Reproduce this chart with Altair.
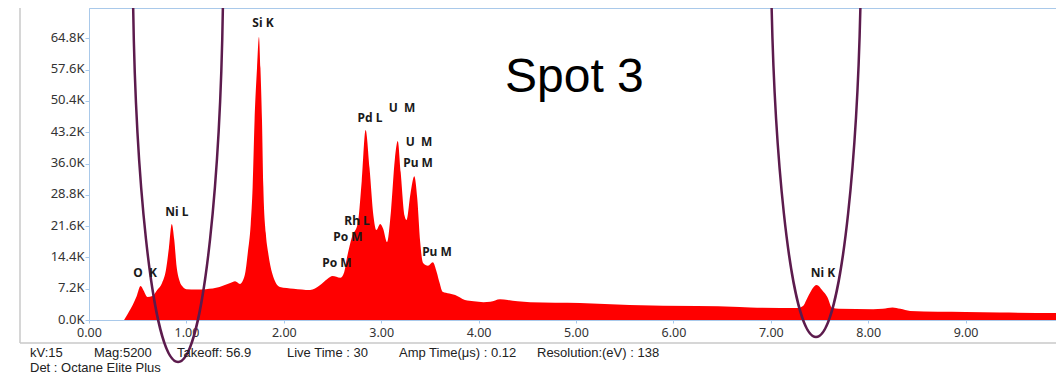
import altair as alt
import pandas as pd

# ---- spectrum (keV, counts in K) ----
energy = [0.36, 0.40, 0.45, 0.49, 0.53, 0.56, 0.60, 0.65, 0.70, 0.75, 0.79, 0.82, 0.85,
          0.875, 0.90, 0.93, 0.965, 1.00, 1.10, 1.20, 1.34, 1.45, 1.50, 1.55, 1.60, 1.63,
          1.66, 1.68, 1.70, 1.725, 1.745, 1.76, 1.776, 1.79, 1.815, 1.84, 1.88, 1.96, 2.10,
          2.27, 2.37, 2.45, 2.50, 2.58, 2.62, 2.65, 2.70, 2.76, 2.80, 2.84, 2.88, 2.92, 2.95,
          2.99, 3.02, 3.06, 3.10, 3.14, 3.17, 3.20, 3.24, 3.26, 3.30, 3.34, 3.37, 3.40, 3.43,
          3.48, 3.53, 3.57, 3.60, 3.63, 3.70, 3.76, 3.86, 3.95, 4.05, 4.12, 4.22, 4.30, 4.40,
          4.53, 5.04, 5.55, 6.24, 6.68, 6.79, 7.28, 7.33, 7.38, 7.47, 7.53, 7.58, 7.63, 7.70,
          8.05, 8.15, 8.25, 8.33, 8.43, 9.00, 9.35, 10.00]
counts_k = [0.0, 1.5, 3.5, 5.5, 7.8, 6.8, 5.3, 5.5, 6.9, 8.5, 11.5, 16.5, 22.1,
            18.5, 12.2, 9.0, 7.6, 7.1, 7.0, 7.1, 7.6, 8.5, 8.9, 8.3, 10.4, 15.4,
            22.0, 30.6, 46.0, 58.0, 65.1, 58.0, 46.0, 30.6, 20.0, 15.4, 10.8, 7.6, 7.2,
            6.9, 8.0, 9.5, 10.1, 9.7, 11.0, 14.5, 19.1, 22.3, 32.0, 43.7, 35.0, 24.0, 20.7,
            22.1, 21.0, 17.9, 25.0, 37.0, 41.2, 34.0, 24.0, 23.0, 29.0, 33.1, 28.0, 18.0, 13.1,
            12.5, 13.3, 11.0, 8.5, 6.5, 6.1, 5.75, 4.6, 4.3, 4.1, 4.2, 4.8, 4.6, 4.3,
            4.1, 3.9, 3.45, 3.2, 3.0, 2.9, 2.76, 3.2, 5.3, 8.05, 6.8, 5.3, 2.8, 2.6,
            2.5, 2.6, 2.9, 2.6, 2.1, 1.85, 1.7, 1.6]

# ---- peak labels ----
NB = "\u00a0"
peak_text = ["O" + NB + NB + "K", "Ni L", "Si K", "Pd L", "U" + NB + NB + "M", "U" + NB + NB + "M",
             "Pu M", "Rh L", "Po M", "Po M", "Pu M", "Ni K"]
peak_x = [0.575, 0.903, 1.786, 2.885, 3.214, 3.388, 3.378, 2.752, 2.659, 2.546, 3.573, 7.536]
peak_y_k = [10.8, 24.8, 68.3, 46.5, 48.8, 40.9, 36.1, 22.8, 19.1, 13.1, 15.6, 10.8]

# ---- highlighted peaks (ellipse bottoms) ----
ring_x = [0.914, 7.464]
ring_y_k = [-9.66, -3.91]

y_ticks = [0, 7200, 14400, 21600, 28800, 36000, 43200, 50400, 57600, 64800]
x_ticks = [0, 1, 2, 3, 4, 5, 6, 7, 8, 9]

footer_row1 = ["kV:15", "Mag:5200", "Takeoff: 56.9", "Live Time : 30", "Amp Time(\u03bcs) : 0.12",
               "Resolution:(eV) : 138"]
footer_row2 = "Det : Octane Elite Plus"

BLUE = "#a9c9ea"
spec = pd.DataFrame({"energy": energy, "counts": [c * 1000 for c in counts_k]})
labels = pd.DataFrame({"energy": peak_x, "counts": [c * 1000 for c in peak_y_k], "t": peak_text})
rings = pd.DataFrame({"energy": ring_x, "counts": [c * 1000 for c in ring_y_k]})

X = alt.X("energy:Q", scale=alt.Scale(domain=[0, 9.928], nice=False, zero=False),
          axis=alt.Axis(values=x_ticks, format=".2f", title=None, grid=False, tickSize=3,
                        labelPadding=3, labelFlush=False, labelOverlap=False, labelFontSize=12.5))
Y = alt.Y("counts:Q", scale=alt.Scale(domain=[0, 71800], nice=False),
          axis=alt.Axis(values=y_ticks, labelExpr="format(datum.value/1000, '.1f') + 'K'",
                        title=None, grid=False, tickSize=4, labelPadding=1, labelFlush=False,
                        labelOffset=-1))

area = alt.Chart(spec).mark_area(color="#ff0000", interpolate="monotone", clip=True).encode(x=X, y=Y)

peak_lbl = alt.Chart(labels).mark_text(font="Noto Sans", fontSize=12, fontWeight="bold",
                                       color="#1a1a1a", baseline="middle", align="center").encode(
    x=X, y=Y, text="t:N")

ELLIPSE = "M0,0 A0.108,1 0 1,1 0,-2 A0.108,1 0 1,1 0,0 Z"
ring = alt.Chart(rings).mark_point(shape=ELLIPSE, size=705600, filled=False, color="#5c1b4d",
                                   strokeWidth=2.5, opacity=1).encode(x=X, y=Y)

spot = alt.Chart(pd.DataFrame({"t": ["Spot 3"]})).mark_text(
    font="Liberation Sans", fontSize=48, color="#000000", align="left", baseline="alphabetic").encode(
    text="t:N", x=alt.value(416), y=alt.value(84))

# outer gray frame (left and bottom edges)
frame = alt.Chart(pd.DataFrame({"a": [0]})).mark_rule(color="#c9c9c9", strokeWidth=1.5).encode(
    x=alt.value(-69), x2=alt.value(-69), y=alt.value(-8), y2=alt.value(335))
frame2 = alt.Chart(pd.DataFrame({"a": [0]})).mark_rule(color="#c9c9c9", strokeWidth=1.5).encode(
    x=alt.value(-69), x2=alt.value(980), y=alt.value(335), y2=alt.value(335))

layers = [frame, frame2, area, ring, peak_lbl, spot]
footer_x = [30, 94, 177, 287, 399, 537]
for txt, px in zip(footer_row1, footer_x):
    layers.append(alt.Chart(pd.DataFrame({"t": [txt]})).mark_text(
        font="Liberation Sans", fontSize=13, color="#222222", align="left", baseline="middle").encode(
        text="t:N", x=alt.value(px - 89), y=alt.value(353 - 8)))
layers.append(alt.Chart(pd.DataFrame({"t": [footer_row2]})).mark_text(
    font="Liberation Sans", fontSize=13, color="#222222", align="left", baseline="middle").encode(
    text="t:N", x=alt.value(30 - 89), y=alt.value(368 - 8)))

chart = alt.layer(*layers).properties(
    width=967, height=312,
    autosize=alt.AutoSizeParams(type="none"),
    padding={"left": 81, "top": 0, "right": 0, "bottom": 54},
).configure_view(stroke=BLUE, strokeWidth=1).configure_axis(
    domainColor=BLUE, tickColor=BLUE, labelFont="Noto Sans", labelFontSize=13, labelColor="#333333")

chart.save("out.html", embed_options={"renderer": "svg", "actions": False})
